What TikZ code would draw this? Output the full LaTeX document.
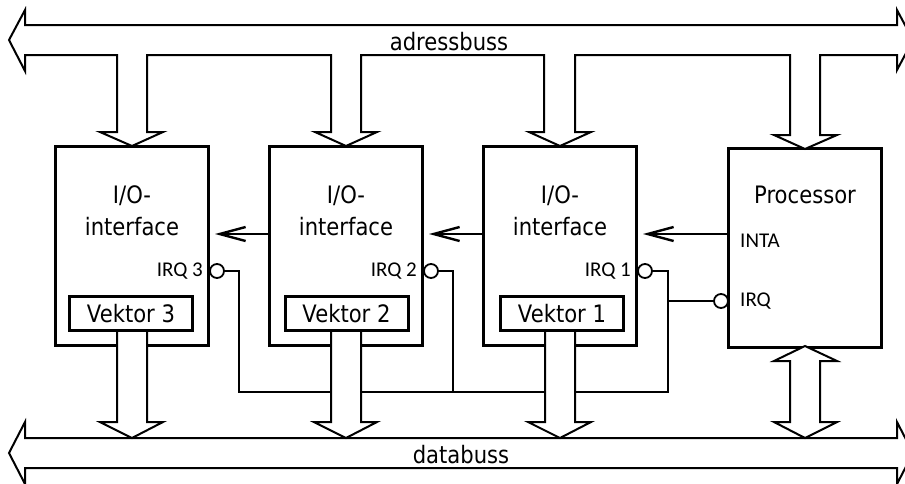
\documentclass[tikz,border=0pt]{standalone}
\usepackage{fontspec}
\setmainfont{DejaVu Sans}
\newfontfamily\boxfont[FakeStretch=0.88]{DejaVu Sans}
\newfontfamily\irqfont{Carlito}
\usepackage{tikz}
\usetikzlibrary{arrows.meta}

\tikzset{
	unit/.style={draw,line width=3pt,minimum width=153pt,minimum height=199pt,inner sep=0pt},
	vekt/.style={draw,line width=3pt,minimum width=123pt,minimum height=34pt,inner sep=0pt,font=\boxfont\fontsize{24}{28}\selectfont},
	txt/.style={align=center,inner sep=0pt,font=\boxfont\fontsize{24}{32}\selectfont},
	pin/.style={inner sep=0pt,font=\irqfont\fontsize{21}{24}\selectfont},
	dot/.style={draw,circle,line width=1.8pt,minimum size=14pt,inner sep=0pt,fill=white},
	bus/.style={line width=2pt,line join=miter},
	wire/.style={line width=1.6pt},
	sig/.style={line width=2.4pt,-{Straight Barb[length=26pt,width=14pt,line width=2.4pt]},shorten >=5pt}
}

\begin{document}
\begin{tikzpicture}[x=1pt,y=-1pt]
		\useasboundingbox (0,0) rectangle (905,483);
		%
		\node[unit] (io3) at (132,246) {};
		\node[unit] (io2) at (346,246) {};
		\node[unit] (io1) at (560,246) {};
		\node[unit] (cpu) at (805,248) {};
		\node[txt] (t3) at (132,211) {I/O-\\interface};
		\node[txt] (t2) at (346,211) {I/O-\\interface};
		\node[txt] (t1) at (560,211) {I/O-\\interface};
		\node[txt] (tc) at (805,195) {Processor};
		\node[vekt] (v3) at (131,313.5) {Vektor 3};
		\node[vekt] (v2) at (346.5,313.5) {Vektor 2};
		\node[vekt] (v1) at (562,313.5) {Vektor 1};
		%
		\node[pin,anchor=east] (l3) at (203,271) {IRQ 3};
		\node[pin,anchor=east] (l2) at (417,271) {IRQ 2};
		\node[pin,anchor=east] (l1) at (631,271) {IRQ 1};
		\node[pin,anchor=west] (inta) at (740,241) {INTA};
		\node[pin,anchor=west] (irq) at (740,301) {IRQ};
		%
		\coordinate (ack) at (0,234);
		\coordinate (j3) at (239,392);
		\coordinate (j2) at (453,392);
		\coordinate (j1) at (668,392);
		%
		\draw[wire] (217,271) -| (j3) -- (j1) |- (645,271);
		\draw[wire] (431,271) -| (j2);
		\draw[wire] (j1 |- irq) -- (721,301);
		\node[dot] (c3) at (217,271) {};
		\node[dot] (c2) at (431,271) {};
		\node[dot] (c1) at (645,271) {};
		\node[dot] (cc) at (721,301) {};
		%
		\draw[sig] (cpu.west |- ack) -- (io1.east |- ack);
		\draw[sig] (io1.west |- ack) -- (io2.east |- ack);
		\draw[sig] (io2.west |- ack) -- (io3.east |- ack);
		%
		% adressbuss
		\draw[bus,fill=white] (9,40) -- (25,10) -- (25,25) -- (897,25) -- (897,10) -- (913,40) -- (897,70) -- (897,55)
			-- (820,55) -- (820,135) -- (837,135) -- (805,149) -- (774,135) -- (790,135) -- (790,55)
			-- (575,55) -- (575,132) -- (591,132) -- (560,146) -- (529,132) -- (544,132) -- (544,55)
			-- (361,55) -- (361,132) -- (377,132) -- (346,146) -- (315,132) -- (331,132) -- (331,55)
			-- (147,55) -- (147,132) -- (163,132) -- (132,146) -- (100,132) -- (117,132) -- (117,55)
			-- (25,55) -- (25,71) -- cycle;
		\node[txt] (ab) at (449,42) {adressbuss};
		%
		% databuss
		\draw[bus,fill=white] (9,453) -- (25,422) -- (25,438) -- (897,438) -- (897,422) -- (913,453) -- (897,484) -- (897,468)
			-- (25,468) -- (25,484) -- cycle;
		\node[txt] (db) at (461,455) {databuss};
		\foreach \x in {132,346,560} {
			\draw[bus,fill=white] (\x-15,332) -- (\x-15,422) -- (\x-32,422) -- (\x,438) -- (\x+31,422) -- (\x+15,422) -- (\x+15,332);
		}
		\draw[bus,fill=white] (805,346) -- (837,361) -- (820,361) -- (820,422) -- (837,422) -- (805,438) -- (774,422) -- (790,422) -- (790,361) -- (774,361) -- cycle;
	\end{tikzpicture}
\end{document}
